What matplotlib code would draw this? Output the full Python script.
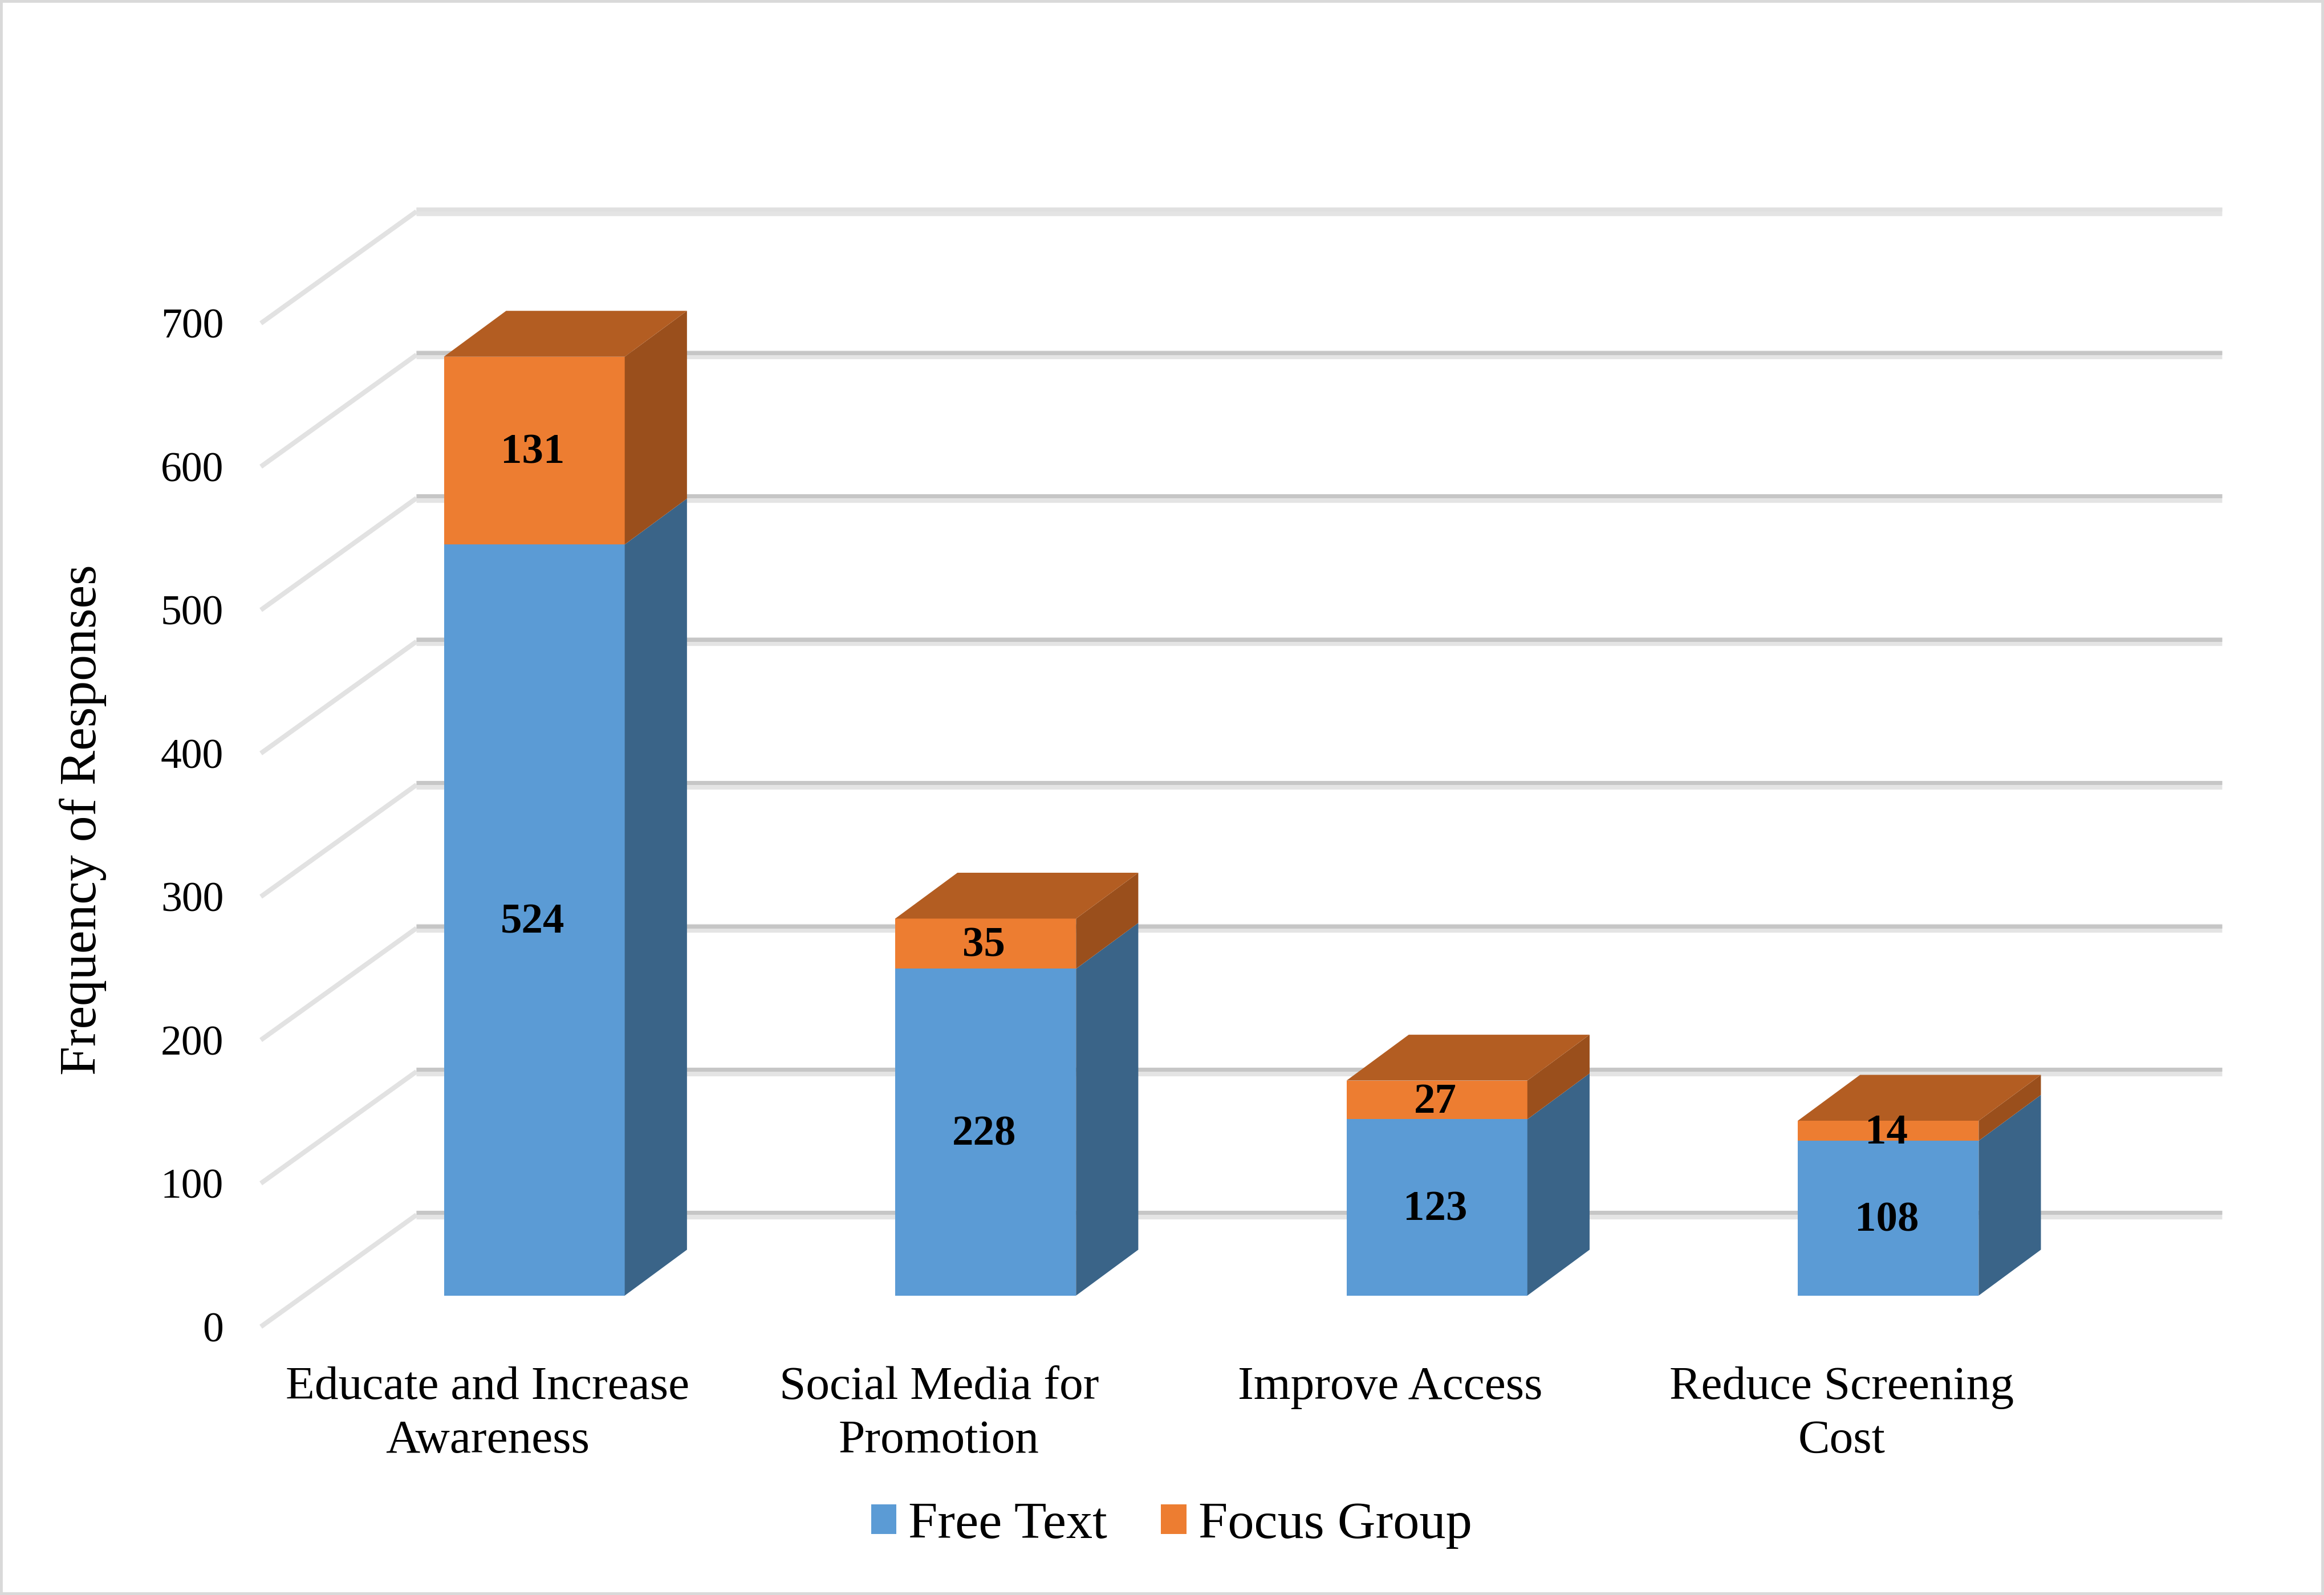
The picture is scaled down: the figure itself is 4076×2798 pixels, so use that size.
import numpy as np
import matplotlib
matplotlib.use('Agg')
import matplotlib.pyplot as plt
from matplotlib.patches import Rectangle
from matplotlib.transforms import ScaledTranslation

categories = ['Educate and Increase\nAwareness', 'Social Media for\nPromotion', 'Improve Access', 'Reduce Screening\nCost']
free_text = [524, 228, 123, 108]
focus_group = [131, 35, 27, 14]
y_ticks = [0, 100, 200, 300, 400, 500, 600, 700]

plt.rcParams['font.family'] = ['Liberation Serif', 'DejaVu Serif']

blue, blue_side = '#5B9BD5', '#3A6488'
orange, orange_side, orange_top = '#ED7D31', '#9A4F1C', '#B35D22'

# sizes below are measured on the 1568 wide preview
W, H = 1568.0, 1076.0
fig = plt.figure(figsize=(40.76, 27.98), dpi=100)
fig.patches.append(Rectangle((0, 0), 1, 1, transform=fig.transFigure, fill=False,
                             edgecolor='#d9d9d9', linewidth=7))
ax = fig.add_axes([176 / W, 1 - 895 / H, (1499 - 176) / W, (895 - 141) / H])

# one category = 304.5 preview px, one response = 0.967 preview px
ax.set_xlim((176 - 360.5) / 304.5, (1499 - 360.5) / 304.5)
ax.set_ylim(0, (895 - 141) / 0.967)
for s in ax.spines.values():
    s.set_visible(False)

x = np.arange(len(categories))
width = 122 / 304.5
base = 21.7            # bars stand a bit in front of the floor edge
depth_x, depth_y = 42 / 304.5, 32
wall_x0, wall_x1 = (281 - 360.5) / 304.5, (1499 - 360.5) / 304.5
wall_y = 78

# walls and floor lines
for t in y_ticks:
    light = '#e4e4e4'
    dark = '#e0e0e0' if t == 700 else '#c6c6c6'
    ax.plot([ax.get_xlim()[0], wall_x0], [t, t + wall_y], color='#e2e2e2', lw=6, zorder=1,
            solid_capstyle='butt', clip_on=False)
    ax.plot([wall_x0, wall_x1], [t + wall_y, t + wall_y], color=light, lw=11, zorder=1,
            solid_capstyle='butt', clip_on=False)
    ax.plot([wall_x0, wall_x1], [t + wall_y + 1.5, t + wall_y + 1.5], color=dark, lw=5, zorder=1,
            solid_capstyle='butt', clip_on=False)

bottoms = base + np.array(free_text)
bars_free = ax.bar(x, free_text, width, bottom=base, color=blue, zorder=3, label='Free Text')
bars_focus = ax.bar(x, focus_group, width, bottom=bottoms, color=orange, zorder=3, label='Focus Group')

for i in x:
    r = i + width / 2
    l = i - width / 2
    y1 = bottoms[i]
    y2 = y1 + focus_group[i]
    ax.fill([r, r + depth_x, r + depth_x, r], [base, base + depth_y, y1 + depth_y, y1],
            color=blue_side, lw=0, zorder=3)
    ax.fill([r, r + depth_x, r + depth_x, r], [y1, y1 + depth_y, y2 + depth_y, y2],
            color=orange_side, lw=0, zorder=3)
    ax.fill([l, l + depth_x, r + depth_x, r], [y2, y2 + depth_y, y2 + depth_y, y2],
            color=orange_top, lw=0, zorder=3)

labels = ax.bar_label(bars_free, label_type='center', fontsize=54, fontweight='bold', zorder=5)
labels += ax.bar_label(bars_focus, label_type='center', fontsize=54, fontweight='bold', zorder=5)
for lab in labels:
    lab.xyann = (-2, -3)

ax.set_yticks(y_ticks)
ax.set_yticklabels([str(t) for t in y_ticks], fontsize=53)
nudge = ScaledTranslation(0, -2 / 72, fig.dpi_scale_trans)
for lab in ax.get_yticklabels():
    lab.set_transform(lab.get_transform() + nudge)
ax.set_xticks(x - 31.5 / 304.5)
ax.set_xticklabels(categories, fontsize=60, linespacing=1.31)
ax.tick_params(axis='both', length=0)
ax.tick_params(axis='y', pad=47)
ax.tick_params(axis='x', pad=50)

fig.text(56 / W, 1 - 553 / H, 'Frequency of Responses', rotation=90, fontsize=66,
         ha='center', va='center')

ax.legend(handles=[bars_free, bars_focus], loc='center', ncol=2, frameon=False, fontsize=66.5,
          bbox_to_anchor=(790.5 / W, 1 - 1029 / H), bbox_transform=fig.transFigure,
          handlelength=0.48, handleheight=0.48, handletextpad=0.23, columnspacing=1.02)

fig.savefig('out.png', dpi=100)
